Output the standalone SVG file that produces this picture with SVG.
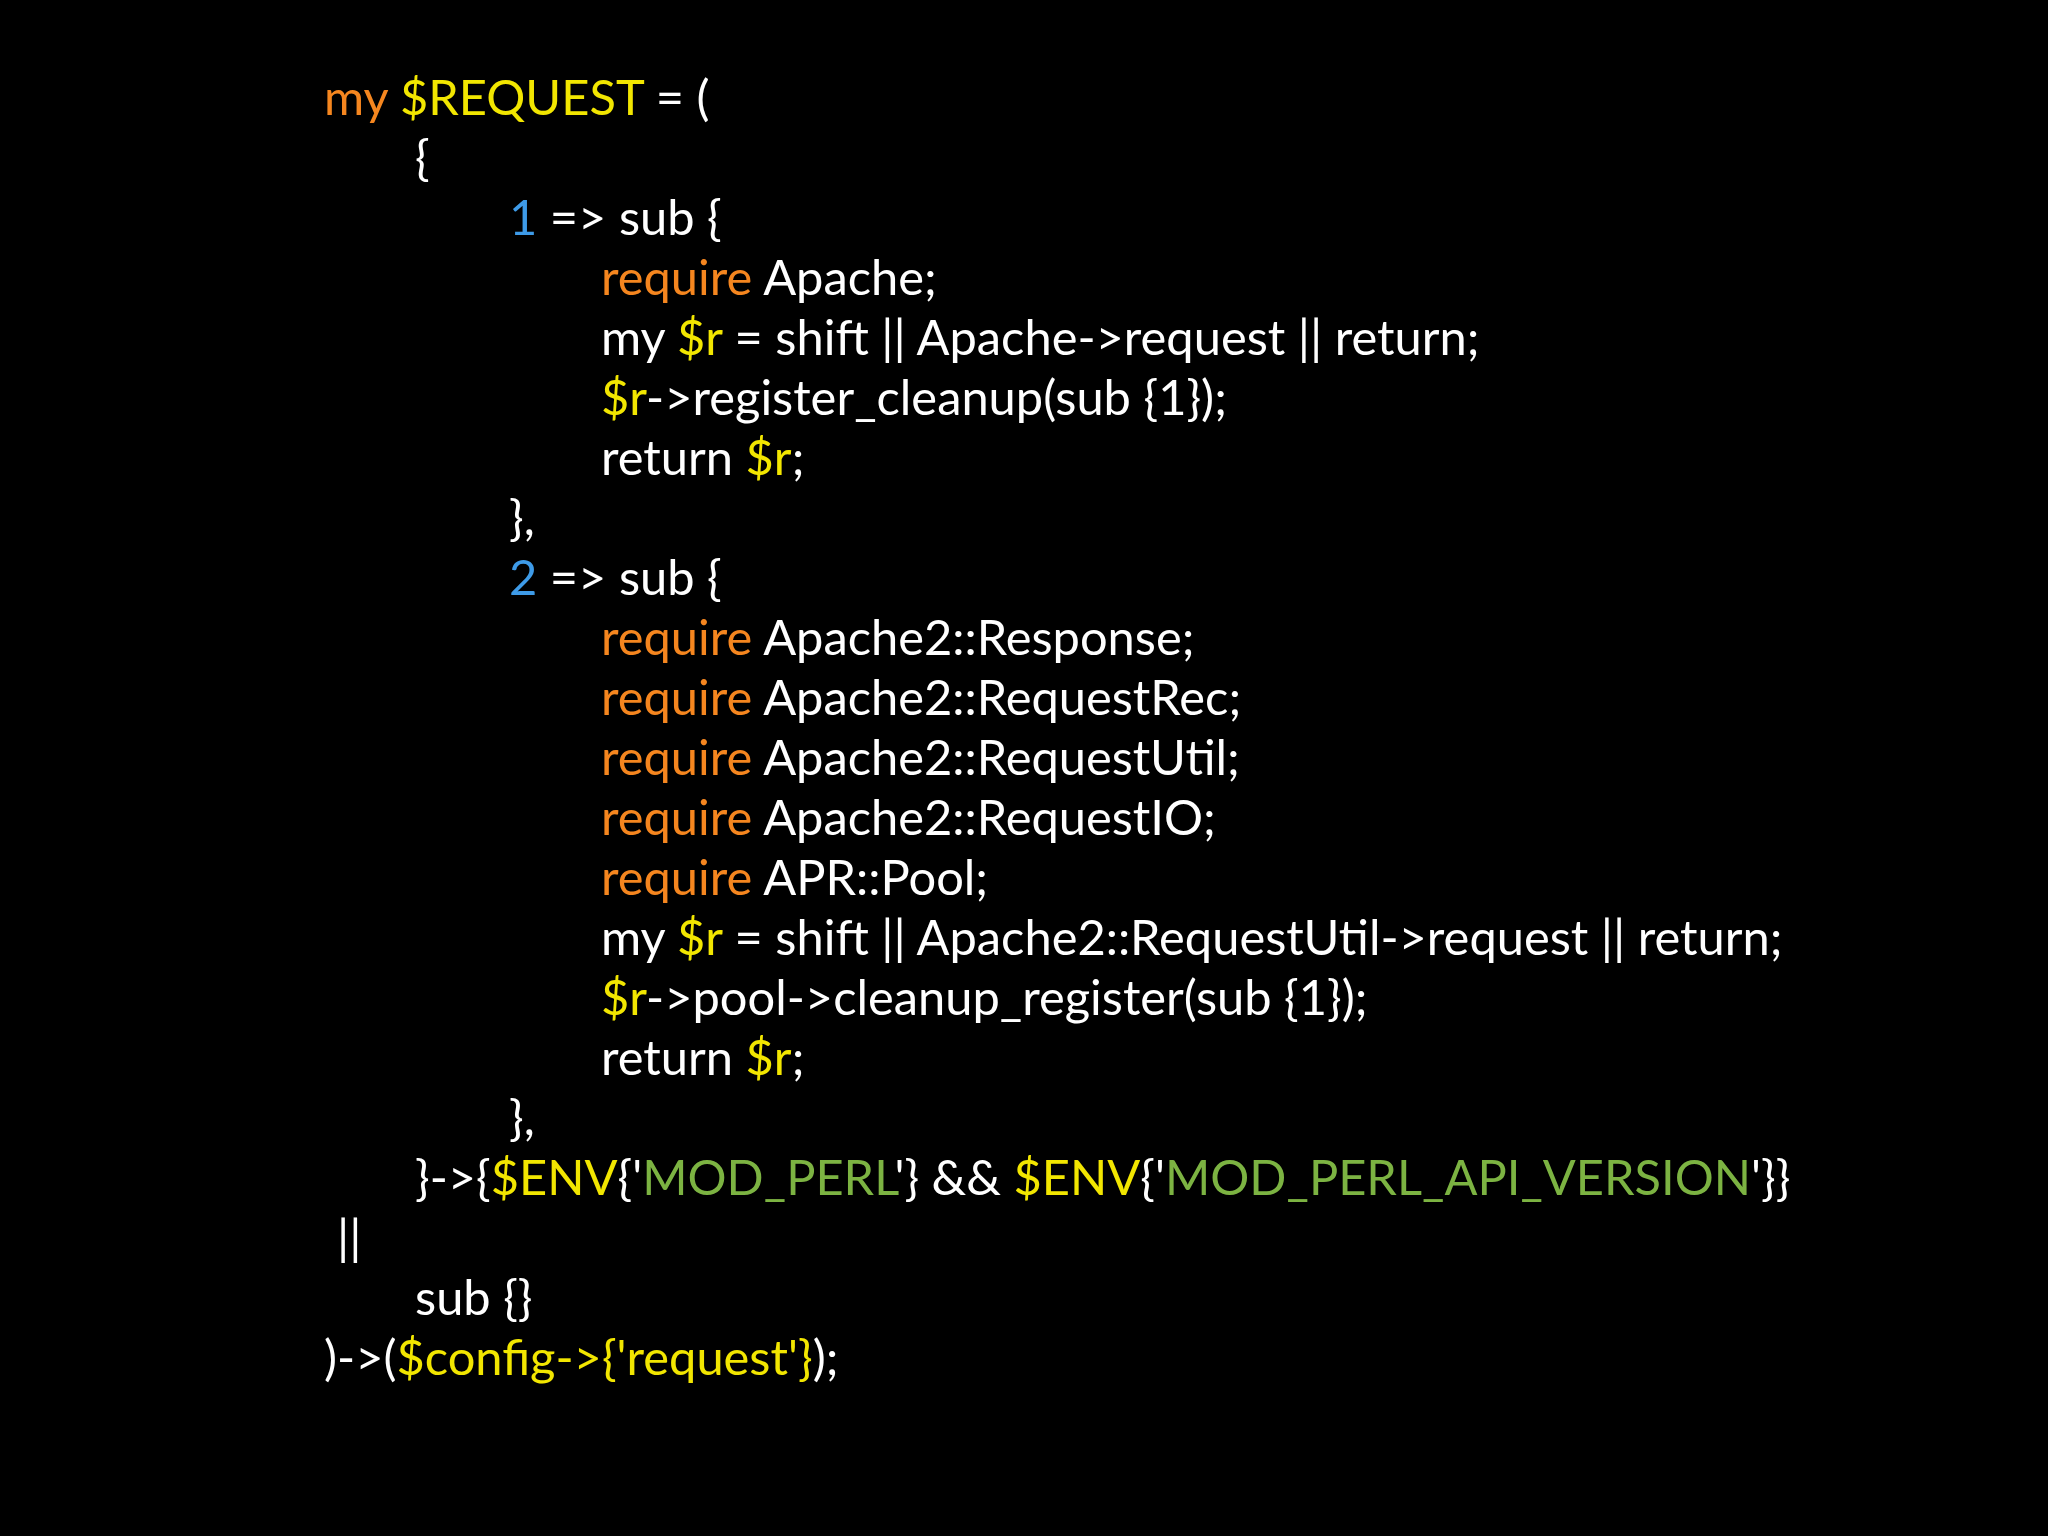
<svg xmlns="http://www.w3.org/2000/svg" width="2048" height="1536" viewBox="0 0 2048 1536">
<style>
text{font-family:Lato,"Open Sans",sans-serif;font-size:48.8px;fill:#fff;white-space:pre}
.o{fill:#F5861F}.y{fill:#F2E600}.b{fill:#3E9BE8}.g{fill:#7CB342}
</style>
<rect width="2048" height="1536" fill="#000"/>
<text x="324" y="115"><tspan class="o">my</tspan> <tspan class="y">$REQUEST</tspan> = (</text>
<text x="415" y="175">{</text>
<text x="509" y="235"><tspan class="b">1</tspan> =&gt; sub {</text>
<text x="601" y="295"><tspan class="o">require</tspan> Apache;</text>
<text x="601" y="355">my <tspan class="y">$r</tspan> = shift || Apache-&gt;request || return;</text>
<text x="601" y="415"><tspan class="y">$r</tspan>-&gt;register_cleanup(sub {1});</text>
<text x="601" y="475">return <tspan class="y">$r</tspan>;</text>
<text x="509" y="535">},</text>
<text x="509" y="595"><tspan class="b">2</tspan> =&gt; sub {</text>
<text x="601" y="655"><tspan class="o">require</tspan> Apache2::Response;</text>
<text x="601" y="715"><tspan class="o">require</tspan> Apache2::RequestRec;</text>
<text x="601" y="775"><tspan class="o">require</tspan> Apache2::RequestUtil;</text>
<text x="601" y="835"><tspan class="o">require</tspan> Apache2::RequestIO;</text>
<text x="601" y="895"><tspan class="o">require</tspan> APR::Pool;</text>
<text x="601" y="955">my <tspan class="y">$r</tspan> = shift || Apache2::RequestUtil-&gt;request || return;</text>
<text x="601" y="1015"><tspan class="y">$r</tspan>-&gt;pool-&gt;cleanup_register(sub {1});</text>
<text x="601" y="1075">return <tspan class="y">$r</tspan>;</text>
<text x="509" y="1135">},</text>
<text x="415" y="1195">}-&gt;{<tspan class="y">$ENV</tspan>{'<tspan class="g">MOD_PERL</tspan>'} &amp;&amp; <tspan class="y">$ENV</tspan>{'<tspan class="g">MOD_PERL_API_VERSION</tspan>'}}</text>
<text x="337" y="1255">||</text>
<text x="415" y="1315">sub {}</text>
<text x="324" y="1375">)-&gt;(<tspan class="y">$config-&gt;{'request'}</tspan>);</text>
</svg>
